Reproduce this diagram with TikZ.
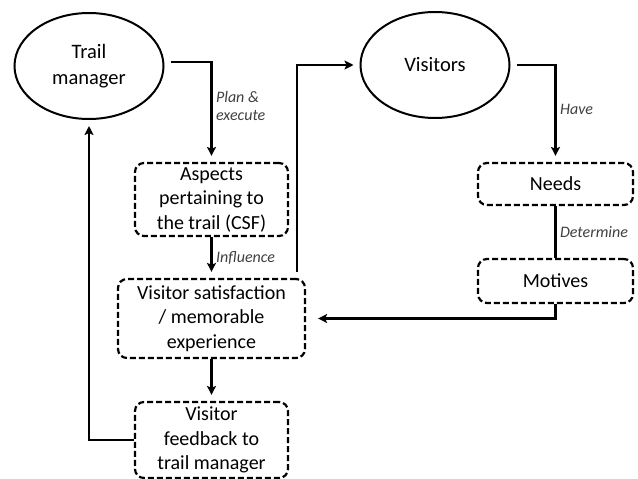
\documentclass[tikz,border=0pt]{standalone}
\usepackage{fontspec}
\setmainfont{Carlito}
\usetikzlibrary{shapes.geometric,arrows.meta}
\begin{document}
\begin{tikzpicture}[x=1pt,y=-1pt,>={Stealth[length=9pt,width=9pt,inset=2pt]},
  oval/.style={ellipse,draw,line width=2pt,minimum width=149pt,minimum height=106pt,
    align=center,font=\fontsize{20.5}{25.5}\selectfont},
  dbox/.style={draw,dash pattern=on 6pt off 3pt,rounded corners=9pt,line width=2.2pt,
    align=center,inner sep=0pt,font=\fontsize{20}{24.5}\selectfont},
  link/.style={line width=2.5pt,shorten >=6pt},
  lbl/.style={font=\fontsize{16}{18}\selectfont\itshape,text=black!75,align=left}]
\useasboundingbox (0,0) rectangle (638,479);
\node[oval] (tm) at (89,66) {Trail\\manager};
\node[oval] (vis) at (435,65) {Visitors};
\node[dbox,minimum width=153pt,minimum height=73pt] (csf) at (211.5,199.5) {Aspects\\pertaining to\\the trail (CSF)};
\node[dbox,minimum width=187pt,minimum height=79pt] (sat) at (211.5,318.5) {Visitor satisfaction\\/ memorable\\experience};
\node[dbox,minimum width=153pt,minimum height=76pt] (fb) at (211.5,440) {Visitor\\feedback to\\trail manager};
\node[dbox,minimum width=155pt,minimum height=42pt] (needs) at (555.5,184) {Needs};
\node[dbox,minimum width=155pt,minimum height=44pt] (mot) at (555.5,281) {Motives};

\draw[link,->] ([xshift=6pt,yshift=4pt]tm.east) -| node[lbl,right,pos=.72] (plan) {Plan \&\\execute} (csf);
\draw[link,->] (csf) -- node[lbl,right] (infl) {Influence} (sat);
\draw[link,->] (sat) -- (fb);
\draw[link,->] (fb.west) -| (tm);
\draw[link,->] ([xshift=-9pt,yshift=6pt]sat.north east) |- (vis.west);
\draw[link,->] ([xshift=6pt]vis.east) -| node[lbl,right,pos=.73] (have) {Have} (needs);
\draw[link,shorten >=0pt] (needs) -- node[lbl,right] (det) {Determine} (mot);
\draw[link,->,shorten >=12pt] (mot.south) |- (sat.east);

\end{tikzpicture}
\end{document}
